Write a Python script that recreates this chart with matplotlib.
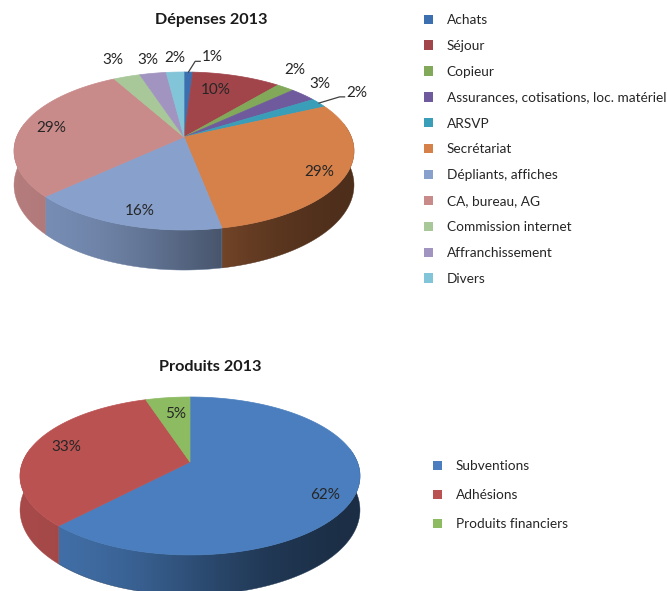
import numpy as np
import matplotlib.pyplot as plt
from matplotlib.patches import Polygon, Patch
from matplotlib.colors import to_rgb

plt.rcParams['font.family'] = ['Lato', 'DejaVu Sans']

# Dépenses 2013
dep_labels = ['Achats', 'Séjour', 'Copieur', 'Assurances, cotisations, loc. matériel',
              'ARSVP', 'Secrétariat', 'Dépliants, affiches', 'CA, bureau, AG',
              'Commission internet', 'Affranchissement', 'Divers']
dep_values = [1, 10, 2, 3, 2, 29, 16, 29, 3, 3, 2]
dep_colors = ['#3c6fb0', '#a1454a', '#82a85a', '#6e5a9c', '#3a9eb8', '#d6804a',
              '#87a0cc', '#c98a8a', '#a8c89a', '#a294c0', '#82c4d8']

# Produits 2013
prod_labels = ['Subventions', 'Adhésions', 'Produits financiers']
prod_values = [62, 33, 5]
prod_colors = ['#4a7ebe', '#bb5252', '#8cbb62']

# label placement: radius on the disc, pixel nudge, leader line
dep_label_r = [1.2, 0.8, 1.2, 1.2, 1.2, 0.8, 0.8, 0.8, 1.2, 1.2, 1.2]
dep_label_shift = [(23, -4), (-12, 3), (-8, -9), (-4, -3), (13, -4), (8, 5),
                   (4, 7), (-3, 0), (-4, -6), (0, -3), (1, -3)]
dep_leader = [True, False, False, False, True, False, False, False, False, False, False]
prod_label_r = [0.8, 0.8, 0.8]
prod_label_shift = [(4, 9), (3, -2), (4, 5)]
prod_leader = [False, False, False]

# simple perspective view of a flat disc
PERSP = 0.177
SX, SY, DEPTH = 167.3, 76.5, 33


def project(cx, cy, theta, r=1.0, z=0.0):
    X = r * np.cos(theta)
    Y = r * np.sin(theta)
    w = 1 + PERSP * Y
    return cx + SX * X / w, cy - (SY * Y + z) / w


def wall_shade(x, cx):
    u = (x - cx) / 170
    return np.clip(0.63 - 0.27 * np.tanh(1.5 * u) / np.tanh(1.5), 0, 1)


def pie3d(ax, values, colors, cx, cy, label_r, shifts, leaders):
    fr = np.array(values, dtype=float) / sum(values)
    edges = 90 - 360 * np.concatenate([[0], np.cumsum(fr)])
    lim = np.degrees(np.arcsin(PERSP))

    # side walls: horizontal gradient, darker towards the right
    gx = np.linspace(cx - 180, cx + 180, 300)
    shade = wall_shade(gx, cx)
    for i in range(len(values)):
        lo, hi = max(edges[i + 1], -180 - lim), min(edges[i], lim)
        if hi <= lo:
            continue
        t = np.radians(np.linspace(lo, hi, max(int((hi - lo) * 2), 2)))
        xt, yt = project(cx, cy, t)
        xb, yb = project(cx, cy, t, z=-DEPTH)
        pts = list(zip(xt, yt)) + list(zip(xb[::-1], yb[::-1]))
        base = np.array(to_rgb(colors[i]))
        img = shade[None, :, None] * base[None, None, :]
        clip = Polygon(pts, closed=True, transform=ax.transData)
        im = ax.imshow(img, extent=(gx[0], gx[-1], cy + 150, cy - 10), aspect='auto',
                       interpolation='bilinear', zorder=1)
        im.set_clip_path(clip)
        mid_col = base * wall_shade(np.mean(xt), cx)
        ax.add_patch(Polygon(pts, closed=True, facecolor='none', edgecolor=mid_col,
                             lw=0.3, zorder=1))

    # top face
    apex = project(cx, cy, 0.0, r=0.0)
    for i in range(len(values)):
        t = np.radians(np.linspace(edges[i], edges[i + 1], max(int(abs(edges[i] - edges[i + 1])), 2)))
        xr, yr = project(cx, cy, t)
        pts = [apex] + list(zip(xr, yr))
        ax.add_patch(Polygon(pts, closed=True, facecolor=colors[i], edgecolor=colors[i],
                             lw=0.5, zorder=2))

    # data labels
    mids = np.radians((edges[:-1] + edges[1:]) / 2)
    for i in range(len(values)):
        x, y = project(cx, cy, mids[i], r=label_r[i])
        tx, ty = x + shifts[i][0], y + shifts[i][1]
        ax.text(tx, ty, f'{round(fr[i] * 100)}%', ha='center', va='center',
                fontsize=11, color='#262626', zorder=4)
        if leaders[i]:
            sx, sy = project(cx, cy, mids[i])
            ex, ey = tx - 12, ty + 4
            ax.plot([sx, ex - 5, ex], [sy, ey, ey], color='#404040', lw=0.9, zorder=3)


fig = plt.figure(figsize=(6.67, 5.91), dpi=100)
ax = fig.add_axes([0, 0, 1, 1])
ax.set_autoscale_on(False)
ax.set_xlim(0, 667)
ax.set_ylim(591, 0)
ax.axis('off')

pie3d(ax, dep_values, dep_colors, 184, 137, dep_label_r, dep_label_shift, dep_leader)
pie3d(ax, prod_values, prod_colors, 190, 462, prod_label_r, prod_label_shift, prod_leader)

ax.text(211, 20, 'Dépenses 2013', ha='center', va='center', fontsize=11.7,
        fontweight='bold', color='#1a1a1a')
ax.text(210, 367, 'Produits 2013', ha='center', va='center', fontsize=11.7,
        fontweight='bold', color='#1a1a1a')

dep_handles = [Patch(facecolor=c, edgecolor='none') for c in dep_colors]
leg1 = ax.legend(dep_handles, dep_labels, loc='upper left', bbox_to_anchor=(424, 14),
                 bbox_transform=ax.transData, frameon=False, fontsize=9.8,
                 handlelength=0.68, handleheight=0.68, handletextpad=1.0,
                 labelspacing=1.02, borderpad=0, borderaxespad=0)
for t in leg1.get_texts():
    t.set_color('#262626')
ax.add_artist(leg1)

prod_handles = [Patch(facecolor=c, edgecolor='none') for c in prod_colors]
leg2 = ax.legend(prod_handles, prod_labels, loc='upper left', bbox_to_anchor=(433, 460),
                 bbox_transform=ax.transData, frameon=False, fontsize=9.8,
                 handlelength=0.68, handleheight=0.68, handletextpad=1.0,
                 labelspacing=1.25, borderpad=0, borderaxespad=0)
for t in leg2.get_texts():
    t.set_color('#262626')

ax.set_xlim(0, 667)
ax.set_ylim(591, 0)
fig.savefig('out.png', dpi=100)
